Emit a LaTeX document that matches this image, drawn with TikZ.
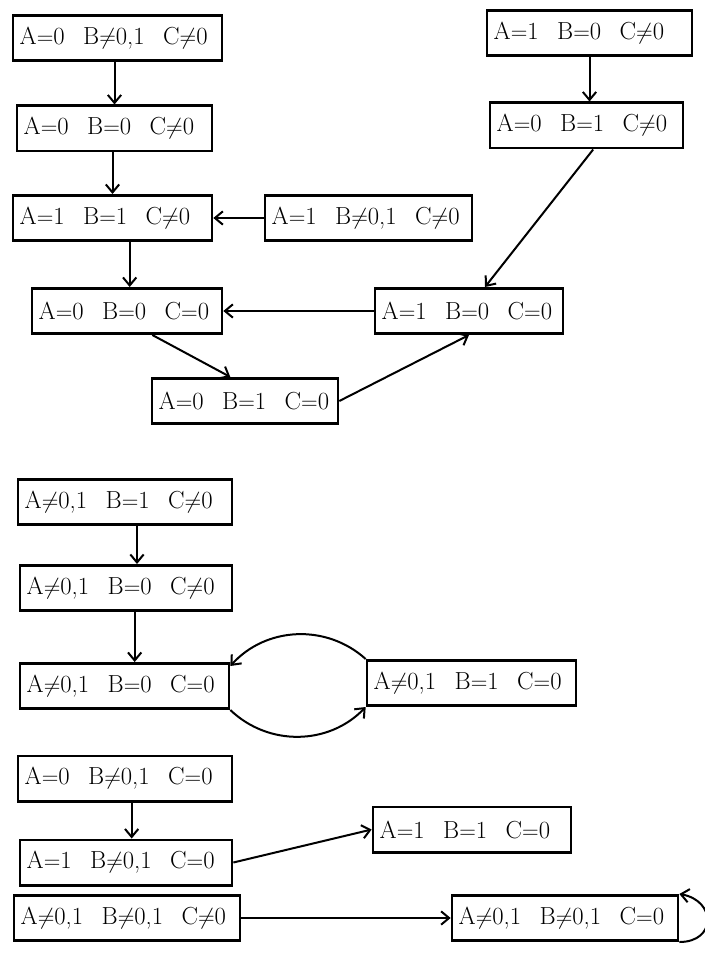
\documentclass[tikz,border=0pt]{standalone}
\usepackage{xcolor}
\usetikzlibrary{arrows.meta}

\newcommand{\vgap}{\hspace{.75em}}

\tikzset{
  state/.style={draw, line width=2pt, inner xsep=5pt, inner ysep=2pt,
    text width=#1*0.75pt-10pt, align=left, minimum height=34pt,
    font=\fontsize{18.5}{22}\selectfont},
  trans/.style={line width=1.5pt, -{Straight Barb[length=6pt,width=10pt]}}
}

\begin{document}
\begin{tikzpicture}[x=0.75pt,y=0.75pt,yscale=-1,xscale=1]
\useasboundingbox (0,0) rectangle (704,980);

% first group of states
\node[state=209] (s1) at (117.5,38) {A$=$0\vgap B$\neq$0,1\vgap C$\neq$0};
\node[state=195] (s2) at (114.5,128.5) {A$=$0\vgap B$=$0\vgap C$\neq$0};
\node[state=199] (s3) at (112.5,218) {A$=$1\vgap B$=$1\vgap C$\neq$0};
\node[state=207] (s4) at (368.5,218) {A$=$1\vgap B$\neq$0,1\vgap C$\neq$0};
\node[state=205] (s5) at (589.5,33) {A$=$1\vgap B$=$0\vgap C$\neq$0};
\node[state=193] (s6) at (586.5,125.5) {A$=$0\vgap B$=$1\vgap C$\neq$0};
\node[state=188] (s7) at (469,311) {A$=$1\vgap B$=$0\vgap C$=$0};
\node[state=190] (s8) at (127,311) {A$=$0\vgap B$=$0\vgap C$=$0};
\node[state=186] (s9) at (245,401) {A$=$0\vgap B$=$1\vgap C$=$0};

\draw[trans] (s1.south -| s2.north) -- (s2.north);
\draw[trans] (s2.south -| s3.north) -- (s3.north);
\draw[trans] (s4.west) -- (s3.east);
\draw[trans] ([xshift=2pt]s3.south -| s8.north) -- ([xshift=2pt]s8.north);
\draw[trans] (s5.south) -- (s5.south |- s6.north);
\draw[trans] ([xshift=5pt]s6.south) -- ([xshift=12pt]s7.north);
\draw[trans] (s7.west) -- (s8.east);
\draw[trans] ([xshift=19pt]s8.south) -- ([xshift=-11pt]s9.north);
\draw[trans] (s9.east) -- (s7.south);

% second group
\node[state=214] (s10) at (125,502) {A$\neq$0,1\vgap B$=$1\vgap C$\neq$0};
\node[state=212] (s11) at (126,588) {A$\neq$0,1\vgap B$=$0\vgap C$\neq$0};
\node[state=209] (s12) at (124.5,686) {A$\neq$0,1\vgap B$=$0\vgap C$=$0};
\node[state=209] (s13) at (471.5,683) {A$\neq$0,1\vgap B$=$1\vgap C$=$0};

\draw[trans] ([xshift=9pt]s10.south) -- ([xshift=9pt]s10.south |- s11.north);
\draw[trans] ([xshift=6.5pt]s11.south) -- ([xshift=6.5pt]s11.south |- s12.north);
\draw[trans] (s13.north west) to[bend left=45] ([yshift=3pt]s12.north east);
\draw[trans] (s12.south east) to[bend left=45] (s13.south west);

% third group
\node[state=214] (s14) at (125,778.5) {A$=$0\vgap B$\neq$0,1\vgap C$=$0};
\node[state=198] (s15) at (472,829.5) {A$=$1\vgap B$=$1\vgap C$=$0};
\node[state=212] (s16) at (126,862.5) {A$=$1\vgap B$\neq$0,1\vgap C$=$0};
\node[state=226] (s17) at (127,918) {A$\neq$0,1\vgap B$\neq$0,1\vgap C$\neq$0};
\node[state=226] (s18) at (565,918) {A$\neq$0,1\vgap B$\neq$0,1\vgap C$=$0};

\draw[trans] ([xshift=5pt]s14.south) -- ([xshift=5pt]s14.south |- s16.north);
\draw[trans] (s16.east) -- (s15.west);
\draw[trans] (s17.east) -- (s18.west);
\draw[trans] (s18.south east) to[out=0,in=10,looseness=2] (s18.north east);

\end{tikzpicture}
\end{document}
